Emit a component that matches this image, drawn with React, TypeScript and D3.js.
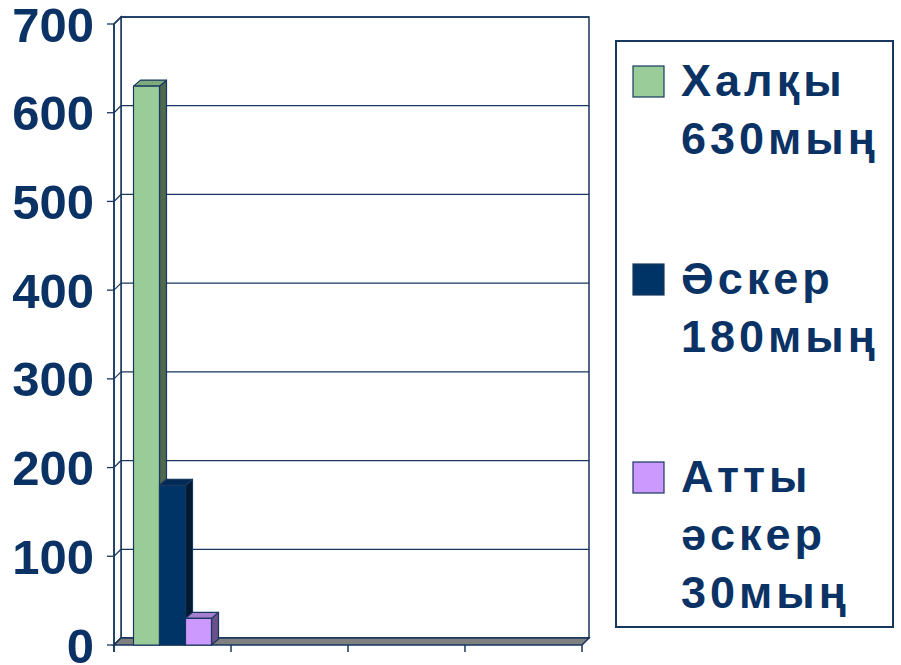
import React from 'react';
import * as d3 from 'd3';

// chart values
const categories = ['c1', 'c2', 'c3', 'c4'];
const seriesNames = ['Халқы 630мың', 'Әскер 180мың', 'Атты әскер 30мың'];
const legendLines = [['Халқы', '630мың'], ['Әскер', '180мың'], ['Атты', 'әскер', '30мың']];
const halqy: (number | null)[] = [630, null, null, null];
const asker: (number | null)[] = [180, null, null, null];
const attyAsker: (number | null)[] = [30, null, null, null];
const yTicks = [0, 100, 200, 300, 400, 500, 600, 700];

const seriesValues = [halqy, asker, attyAsker];

const faceColors = [
    { front: '#99CC99', top: '#7EAA7E', side: '#50684F' },
    { front: '#003366', top: '#002A55', side: '#001A33' },
    { front: '#CC99FF', top: '#A67FD0', side: '#6A5088' },
];

const W = 901;
const H = 665;
const NAVY = '#0B3265';
const LINE = '#17375E';
const FONT = '"Liberation Sans", Arial, sans-serif';

// depth offset of the wall / floor
const DX = 7;
const DY = -7;
// depth offset of bars
const BDX = 7;
const BDY = -6;

export default function App() {
    const yScale = d3.scaleLinear().domain([0, 700]).range([645, 24]);
    const xScale = d3.scaleBand<string>()
        .domain(categories)
        .range([114, 582])
        .paddingInner(1 / 3)
        .paddingOuter(1 / 6);
    const xSeries = d3.scaleBand<string>()
        .domain(seriesNames)
        .range([0, xScale.bandwidth()]);

    const x0 = 114;
    const x1 = 582;
    const y0 = yScale(0);
    const yTop = yScale(700);

    const pts = (p: [number, number][]) => p.map(d => d.join(',')).join(' ');

    // category tick positions (boundaries)
    const step = xScale.step();
    const catTicks = d3.range(categories.length + 1).map(i => x0 + i * step);

    return (
        <svg width={W} height={H} style={{ position: 'absolute', left: 0, top: 0, display: 'block', background: '#fff' }}>
            {/* back wall */}
            <rect x={x0 + DX} y={yTop + DY} width={x1 - x0} height={y0 - yTop} fill="#fff" stroke={LINE} strokeWidth={1.5} />
            {/* side wall */}
            <polygon
                points={pts([[x0, yTop], [x0 + DX, yTop + DY], [x0 + DX, y0 + DY], [x0, y0]])}
                fill="#fff" stroke={LINE} strokeWidth={1.5}
            />
            {/* gridlines */}
            {yTicks.map(t => (
                <g key={t}>
                    <line x1={x0 + DX} x2={x1 + DX} y1={yScale(t) + DY} y2={yScale(t) + DY} stroke={LINE} strokeWidth={1.3} />
                    <line x1={x0} x2={x0 + DX} y1={yScale(t)} y2={yScale(t) + DY} stroke={LINE} strokeWidth={1.3} />
                    <line x1={x0 - 7} x2={x0} y1={yScale(t)} y2={yScale(t)} stroke={LINE} strokeWidth={1.3} />
                    <text
                        x={94}
                        y={yScale(t)}
                        dy="0.36em"
                        textAnchor="end"
                        fontFamily={FONT}
                        fontWeight="bold"
                        fontSize={49}
                        fill={NAVY}
                    >
                        {t}
                    </text>
                </g>
            ))}
            {/* floor */}
            <polygon
                points={pts([[x0, y0], [x0 + DX, y0 + DY], [x1 + DX, y0 + DY], [x1, y0]])}
                fill="#808080" stroke={LINE} strokeWidth={1.5}
            />
            <line x1={x0} x2={x0} y1={yTop} y2={y0 + 7} stroke={LINE} strokeWidth={1.5} />
            {catTicks.map((cx, i) => (
                <line key={i} x1={cx} x2={cx} y1={y0} y2={y0 + 7} stroke={LINE} strokeWidth={1.5} />
            ))}
            {/* bars */}
            {categories.map((c, ci) =>
                seriesNames.map((s, si) => {
                    const v = seriesValues[si][ci];
                    if (v == null) return null;
                    const bx0 = (xScale(c) ?? 0) + (xSeries(s) ?? 0);
                    const bx1 = bx0 + xSeries.bandwidth();
                    const by = yScale(v);
                    const col = faceColors[si];
                    return (
                        <g key={`${c}-${s}`} stroke={LINE} strokeWidth={1.2} strokeLinejoin="round">
                            <polygon
                                points={pts([[bx1, by], [bx1 + BDX, by + BDY], [bx1 + BDX, y0 + BDY], [bx1, y0]])}
                                fill={col.side}
                            />
                            <polygon
                                points={pts([[bx0, by], [bx0 + BDX, by + BDY], [bx1 + BDX, by + BDY], [bx1, by]])}
                                fill={col.top}
                            />
                            <rect x={bx0} y={by} width={bx1 - bx0} height={y0 - by} fill={col.front} />
                        </g>
                    );
                })
            )}
            {/* legend */}
            <rect x={616} y={41} width={277} height={586} fill="#fff" stroke={LINE} strokeWidth={2} />
            {legendLines.map((lines, i) => {
                const base = 96 + i * 198;
                return (
                    <g key={i}>
                        <rect x={633} y={base - 30} width={31} height={31} fill={faceColors[i].front} stroke={LINE} strokeWidth={1.2} />
                        {lines.map((ln, li) => (
                            <text
                                key={li}
                                x={681}
                                y={base + li * 58}
                                fontFamily={FONT}
                                fontWeight="bold"
                                fontSize={45}
                                letterSpacing={4}
                                fill={NAVY}
                            >
                                {ln}
                            </text>
                        ))}
                    </g>
                );
            })}
        </svg>
    );
}
